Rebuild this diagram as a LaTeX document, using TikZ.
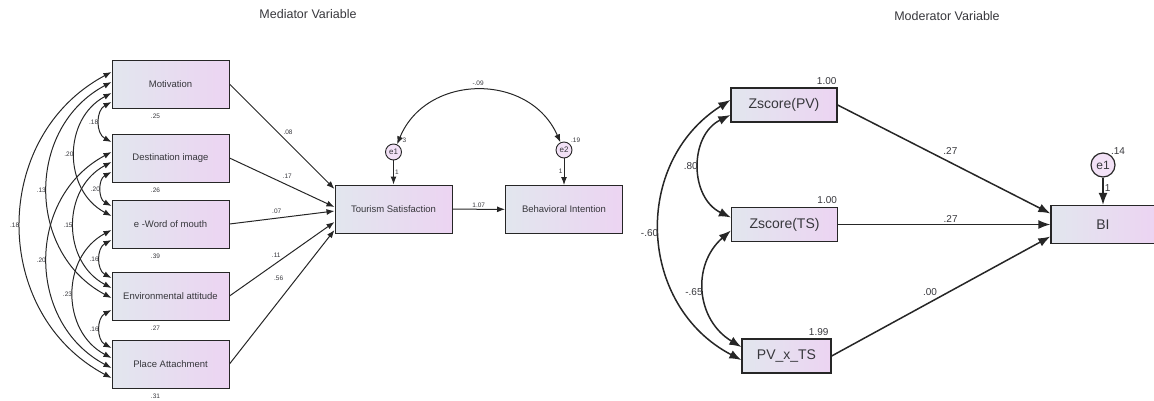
\documentclass[tikz,border=0pt]{standalone}
\usepackage{fontspec}
\setmainfont{Liberation Sans}
\usepackage{tikz}
\usetikzlibrary{shapes,arrows.meta,positioning,calc}

\definecolor{boxleft}{RGB}{226,230,238}
\definecolor{boxright}{RGB}{236,212,242}
\definecolor{linegray}{RGB}{38,38,38}
\definecolor{textgray}{RGB}{55,55,60}

\tikzset{
  var/.style={draw=linegray, line width=1pt, left color=boxleft, right color=boxright,
    minimum width=117pt, minimum height=48pt, inner sep=0pt,
    font=\fontsize{9.5}{11}\selectfont, text=textgray},
  bigvar/.style={var, line width=1.25pt, minimum width=106pt, minimum height=34pt,
    font=\fontsize{14}{16}\selectfont},
  err/.style={circle, draw=linegray, line width=0.9pt, fill=boxright!70!white,
    minimum size=16pt, inner sep=0pt, font=\fontsize{8}{9}\selectfont, text=textgray},
  est/.style={font=\fontsize{6.5}{7}\selectfont, text=textgray, inner sep=1pt},
  bigest/.style={font=\fontsize{10}{12}\selectfont, text=textgray, inner sep=1pt},
  path/.style={->, line width=1pt, draw=linegray},
  cov/.style={<->, line width=1pt, draw=linegray, bend right=62, looseness=1.15},
  bigpath/.style={-{Latex[length=12pt,width=9pt]}, line width=1.5pt, draw=linegray},
  bigcov/.style={{Latex[length=12pt,width=9pt]}-{Latex[length=12pt,width=9pt]},
    line width=1.5pt, draw=linegray},
}

\begin{document}
\begin{tikzpicture}[x=1pt, y=-1pt, >={Latex[length=8pt,width=6pt]}]

\useasboundingbox (0,0) rectangle (1154,400);

% Titles
\node[font=\fontsize{12.5}{14}\selectfont, text=textgray] (medtitle) at (308,14) {Mediator Variable};
\node[font=\fontsize{12.5}{14}\selectfont, text=textgray] (modtitle) at (947,16) {Moderator Variable};

% Exogenous variables (mediator model)
\node[var] (mot) at (170.5,84) {Motivation};
\node[var] (dest) at (170.5,158) {Destination image};
\node[var] (ewom) at (170.5,224) {e -Word of mouth};
\node[var] (env) at (170.5,296) {Environmental attitude};
\node[var] (place) at (170.5,364) {Place Attachment};

% Variances below the boxes
\foreach \n/\v in {mot/.25, dest/.26, ewom/.39, env/.27, place/.31} {
    \node[est] (var\n) at ([xshift=-15pt,yshift=-8pt]\n.south) {\v};
}

% Mediator and outcome
\node[var] (ts) at (393.5,209) {Tourism Satisfaction};
\node[var] (bi) at (564,209.5) {Behavioral Intention};
\node[err] (e1) at (393.5,152) {e1};
\node[err] (e2) at (564,150) {e2};

% Covariances between exogenous variables
\foreach \a/\ya/\b/\yb/\r in {mot/-18/dest/16/.18, dest/-14/ewom/18/.20, ewom/-16/env/18/.16,
    env/-14/place/16/.16, mot/-9/ewom/8/.20, dest/-4/env/8/.15, ewom/-6/place/6/.23,
    mot/2/env/-2/.13, dest/6/place/-4/.20, mot/12/place/-14/.18} {
    \draw[cov] ([yshift=\ya pt]\a.west) to node[est, left] {\r} ([yshift=\yb pt]\b.west);
}

% Paths to Tourism Satisfaction
\draw[path] (mot.east) -- node[est, pos=0.5, above right] {.08} ([yshift=20pt]ts.west);
\draw[path] (dest.east) -- node[est, pos=0.55, above=5pt] {.17} ([yshift=2pt]ts.west);
\draw[path] (ewom.east) -- node[est, pos=0.45, above=3pt] {.07} ([yshift=-2pt]ts.west);
\draw[path] (env.east) -- node[est, pos=0.5, above left] {.11} ([yshift=-13pt]ts.west);
\draw[path] (place.east) -- node[est, pos=0.64, left=12pt] {.56} ([yshift=-21pt]ts.west);

% Mediator to outcome
\draw[path] (ts) -- node[est, above] {1.07} (bi);

% Error terms
\draw[path] (e1.south) -- node[est, right] {1} (e1.south |- ts.north);
\draw[path] (e2.south) -- node[est, left] {1} (e2.south |- bi.north);
\node[est, anchor=south west] (e1var) at ([xshift=2pt,yshift=2pt]e1.north east) {3};
\node[est, anchor=south west] (e2var) at (e2.north east) {.19};
\draw[<->, line width=1pt, draw=linegray] (e1.65) to[bend left=67, looseness=1.2]
    node[est, above=3pt] {-.09} (e2.115);

% Moderator model
\node[bigvar] (zpv) at (784,105) {Zscore(PV)};
\node[bigvar] (zts) at (784.5,224.5) {Zscore(TS)};
\node[bigvar, minimum width=89pt] (pvts) at (786.5,356) {PV\_x\_TS};
\node[bigvar, minimum width=104pt, minimum height=38pt] (bim) at (1103,224.5) {BI};
\node[err, line width=1.2pt, minimum size=24pt, font=\fontsize{12}{14}\selectfont] (e1m) at (1103,165) {e1};

% Variances
\node[bigest, anchor=south east] (varzpv) at ([yshift=2pt]zpv.north east) {1.00};
\node[bigest, anchor=south east] (varzts) at ([yshift=2pt]zts.north east) {1.00};
\node[bigest, anchor=south east] (varpvts) at ([yshift=2pt,xshift=-2pt]pvts.north east) {1.99};
\node[bigest, anchor=south west] (vare1m) at ([xshift=-2pt]e1m.north east) {.14};

% Covariances
\draw[bigcov] ([yshift=-10pt]zpv.west) to[bend right=64, looseness=1.15]
    node[bigest, left] {.80} ([yshift=7pt]zts.west);
\draw[bigcov] ([yshift=-6pt]zts.west) to[bend right=54, looseness=1.15]
    node[bigest, left] {-.65} ([yshift=9pt]pvts.west);
\draw[bigcov] ([yshift=5pt]zpv.west) to[bend right=60, looseness=1.15]
    node[bigest, left] {-.60} ([yshift=-4pt]pvts.west);

% Paths to BI
\draw[bigpath] (zpv.east) -- node[bigest, pos=0.53, above=6pt] {.27} ([yshift=11pt]bim.west);
\draw[bigpath] (zts.east) -- node[bigest, pos=0.53, above] {.27} (bim.west);
\draw[bigpath] (pvts.east) -- node[bigest, pos=0.45, above=5pt] {.00} ([yshift=-12pt]bim.west);
\draw[bigpath] (e1m.south) -- node[bigest, right, pos=0.4] {1} (e1m.south |- bim.north);

\end{tikzpicture}
\end{document}
